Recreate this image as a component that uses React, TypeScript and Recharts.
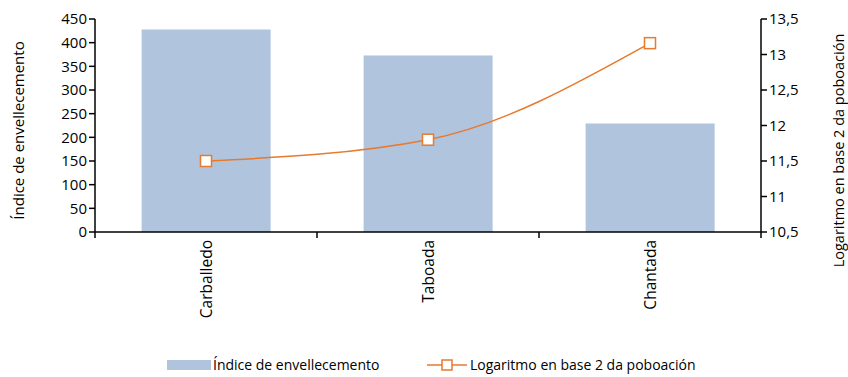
import { ComposedChart, Bar, Line, XAxis, YAxis, Legend } from 'recharts';

const concellos = ['Carballedo', 'Taboada', 'Chantada'];
const indiceEnvellecemento = [428, 373, 229];
const log2Poboacion = [11.5, 11.8, 13.16];
const leftTicks = [0, 50, 100, 150, 200, 250, 300, 350, 400, 450];
const rightTicks = [10.5, 11, 11.5, 12, 12.5, 13, 13.5];

const data = concellos.map((name, i) => ({
  name,
  indice: indiceEnvellecemento[i],
  log2: log2Poboacion[i],
}));

const FONT = '"Open Sans", "Noto Sans", sans-serif';
const BAR_COLOR = '#b0c4de';
const LINE_COLOR = '#e8792d';

const fmtComma = (v: number) => String(v).replace('.', ',');

// rotated concello name, plus the small marks on the band edges
function CategoryTick({ x, y, payload, index }: any) {
  const half = payload?.offset ?? 111;
  const last = index === concellos.length - 1;
  return (
    <g>
      <line x1={x - half} y1={y} x2={x - half} y2={y + 6} stroke="#000" strokeWidth={1.5} />
      {last && <line x1={x + half} y1={y} x2={x + half} y2={y + 6} stroke="#000" strokeWidth={1.5} />}
      <text
        x={x}
        y={y + 8}
        transform={`rotate(-90, ${x}, ${y + 8})`}
        textAnchor="end"
        dominantBaseline="central"
        fontSize={15.5}
        fontFamily={FONT}
        fill="#000"
      >
        {payload.value}
      </text>
    </g>
  );
}

function SquareDot({ cx, cy }: any) {
  if (cx == null || cy == null) return null;
  return <rect x={cx - 5.5} y={cy - 5.5} width={11} height={11} fill="#fff" stroke={LINE_COLOR} strokeWidth={1.5} />;
}

function AxisTitle({ viewBox, value, dx, dy, size }: any) {
  const cx = viewBox.x + dx;
  const cy = viewBox.y + viewBox.height / 2 + dy;
  return (
    <text
      x={cx}
      y={cy}
      transform={`rotate(-90, ${cx}, ${cy})`}
      textAnchor="middle"
      dominantBaseline="central"
      fontSize={size}
      fontFamily={FONT}
      fill="#000"
    >
      {value}
    </text>
  );
}

function LegendContent() {
  return (
    <div style={{ height: 24, position: 'relative', fontFamily: FONT, fontSize: 14, color: '#000' }}>
      <div style={{ position: 'absolute', left: 167, top: 7, width: 44, height: 10, background: BAR_COLOR }} />
      <span style={{ position: 'absolute', left: 213, top: 2, lineHeight: '20px' }}>Índice de envellecemento</span>
      <svg style={{ position: 'absolute', left: 427, top: 2 }} width={40} height={20}>
        <line x1={0} y1={10} x2={40} y2={10} stroke={LINE_COLOR} strokeWidth={1.5} />
        <rect x={15} y={5} width={10} height={10} fill="#fff" stroke={LINE_COLOR} strokeWidth={1.5} />
      </svg>
      <span style={{ position: 'absolute', left: 470, top: 2, lineHeight: '20px' }}>Logaritmo en base 2 da poboación</span>
    </div>
  );
}

export default function App() {
  return (
    <div style={{ position: 'absolute', left: 0, top: 0, background: '#fff' }}>
      <ComposedChart
        width={848}
        height={377}
        data={data}
        margin={{ top: 19, right: 0, bottom: 0, left: 0 }}
        barCategoryGap="21%"
      >
        <XAxis
          dataKey="name"
          height={121}
          interval={0}
          tickSize={0}
          tickMargin={0}
          tick={<CategoryTick />}
          tickLine={false}
          axisLine={{ stroke: '#000', strokeWidth: 1.5 }}
        />
        <YAxis
          yAxisId="left"
          domain={[0, 450]}
          ticks={leftTicks}
          width={95}
          tickSize={6}
          tickLine={{ stroke: '#000', strokeWidth: 1.5 }}
          axisLine={{ stroke: '#000', strokeWidth: 1.5 }}
          tick={{ fill: '#000', fontSize: 15, fontFamily: FONT }}
          label={<AxisTitle value="Índice de envellecemento" dx={18} dy={5} size={15} />}
        />
        <YAxis
          yAxisId="right"
          orientation="right"
          domain={[10.5, 13.5]}
          ticks={rightTicks}
          width={87}
          tickSize={6}
          tickFormatter={fmtComma}
          tickLine={{ stroke: '#000', strokeWidth: 1.5 }}
          axisLine={{ stroke: '#000', strokeWidth: 1.5 }}
          tick={{ fill: '#000', fontSize: 15, fontFamily: FONT }}
          label={<AxisTitle value="Logaritmo en base 2 da poboación" dx={77} dy={25} size={14.5} />}
        />
        <Legend verticalAlign="bottom" content={<LegendContent />} wrapperStyle={{ left: 0, width: 848 }} />
        <Bar yAxisId="left" dataKey="indice" name="Índice de envellecemento" fill={BAR_COLOR} isAnimationActive={false} />
        <Line
          yAxisId="right"
          type="monotone"
          dataKey="log2"
          name="Logaritmo en base 2 da poboación"
          stroke={LINE_COLOR}
          strokeWidth={1.5}
          dot={<SquareDot />}
          activeDot={false}
          isAnimationActive={false}
        />
      </ComposedChart>
    </div>
  );
}
